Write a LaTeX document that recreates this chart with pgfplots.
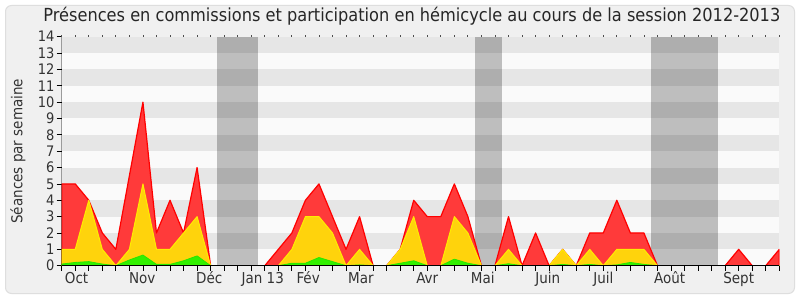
\documentclass[border=0pt]{standalone}
\usepackage{pgfplots}
\pgfplotsset{compat=1.18}
\usepackage{pgfplotstable}
\usepackage{fontspec}
\setmainfont{DejaVu Sans Condensed}
\definecolor{panelbg}{RGB}{240,240,240}
\definecolor{panelborder}{RGB}{222,222,222}
\definecolor{stripedark}{RGB}{230,230,230}
\definecolor{stripelight}{RGB}{250,250,250}
\definecolor{redfill}{RGB}{255,58,58}
\definecolor{redline}{RGB}{255,0,0}
\definecolor{yelfill}{RGB}{255,211,12}
\definecolor{yelline}{RGB}{255,236,0}
\definecolor{grnfill}{RGB}{50,240,0}
\definecolor{grnline}{RGB}{40,230,0}
\pgfplotstableread{
x red yellow green
0 5 1 0.1
1 5 1 0.2
2 4 4 0.25
3 2 1 0.1
4 1 0 0
5 5.5 1 0.35
6 10 5 0.65
7 2 1 0.08
8 4 1 0.08
9 2 2 0.3
10 6 3 0.6
11 0 0 0
12 0 0 0
13 0 0 0
14 0 0 0
15 0 0 0
16 1 0 0
17 2 1 0.15
18 4 3 0.15
19 5 3 0.5
20 3 2 0.25
21 1 0 0
22 3 1 0.05
23 0 0 0
24 0 0 0
25 1 1 0.15
26 4 3 0.3
27 3 0 0
28 3 0 0
29 5 3 0.4
30 3 2 0.15
31 0 0 0
32 0 0 0
33 3 1 0.12
34 0 0 0
35 2 0 0
36 0 0 0
37 1 1 0.08
38 0 0 0
39 2 1 0.08
40 2 0 0
41 4 1 0.05
42 2 1 0.2
43 2 1 0.08
44 0 0 0
45 0 0 0
46 0 0 0
47 0 0 0
48 0 0 0
49 0 0 0
50 1 0 0
51 0 0 0
52 0 0 0
53 1 0 0
}\sessiondata
\begin{document}
\begin{tikzpicture}[x=1pt,y=1pt]
\fill[white] (0,0) rectangle (800,300);
\draw[panelborder, fill=panelbg, rounded corners=6pt, line width=1pt] (5.5,6.5) rectangle (794.5,294.5);
\begin{axis}[
  at={(61.7pt,34.3pt)}, anchor=south west,
  scale only axis, width=717.6pt, height=229pt,
  xmin=0, xmax=53, ymin=0, ymax=14,
  /pgf/number format/assume math mode=true,
  axis line style={draw=none},
  axis background/.style={fill=stripelight},
  xtick={0,...,53}, xticklabels={},
  ytick={0,...,14},
  tick align=outside, xtick pos=bottom, ytick pos=left,
  major tick length=5pt,
  tick style={black, line width=0.8pt},
  yticklabel style={font=\fontsize{14.5}{16}\selectfont, inner sep=2pt, text=black!80},
  extra x ticks={1.1,5.95,10.9,14.85,18.2,22.1,27.0,31.1,35.9,40.0,44.9,50.0},
  extra x tick labels={Oct,Nov,Déc,Jan 13,Fév,Mar,Avr,Mai,Juin,Juil,Août,Sept},
  extra x tick style={major tick length=0pt, tick label style={font=\fontsize{15}{16}\selectfont, inner sep=0pt, text height=10.8pt, yshift=-7pt, text=black!80}},
  ylabel={Séances par semaine},
  ylabel style={font=\fontsize{15}{16}\selectfont, at={(axis description cs:-0.0609,0.5)}, anchor=center, text=black!80},
  title={Présences en commissions et participation en hémicycle au cours de la session 2012-2013},
  title style={font=\fontsize{18}{20}\selectfont, at={(axis description cs:0.488,1)}, anchor=base, yshift=9.5pt, text=black!85},
]
\fill[stripedark] (axis cs:0,1) rectangle (axis cs:53,2);
\fill[stripedark] (axis cs:0,3) rectangle (axis cs:53,4);
\fill[stripedark] (axis cs:0,5) rectangle (axis cs:53,6);
\fill[stripedark] (axis cs:0,7) rectangle (axis cs:53,8);
\fill[stripedark] (axis cs:0,9) rectangle (axis cs:53,10);
\fill[stripedark] (axis cs:0,11) rectangle (axis cs:53,12);
\fill[stripedark] (axis cs:0,13) rectangle (axis cs:53,14);
\fill[black, opacity=0.24] (axis cs:11.5,0) rectangle (axis cs:14.5,14);
\fill[black, opacity=0.24] (axis cs:30.5,0) rectangle (axis cs:32.5,14);
\fill[black, opacity=0.24] (axis cs:43.5,0) rectangle (axis cs:48.5,14);
\addplot[draw=redline, line width=1.2pt, fill=redfill, line join=round] table[x=x,y=red] {\sessiondata} \closedcycle;
\addplot[draw=yelline, line width=1pt, fill=yelfill, line join=round] table[x=x,y=yellow] {\sessiondata} \closedcycle;
\addplot[draw=grnline, line width=0.8pt, fill=grnfill, line join=round] table[x=x,y=green] {\sessiondata} \closedcycle;
\draw[black, line width=0.9pt] (axis cs:0,0) -- (axis cs:53,0);
\draw[black, line width=0.9pt] (axis cs:0,0) -- (axis cs:0,14);
\end{axis}
\begin{axis}[
  at={(61.7pt,34.3pt)}, anchor=south west,
  scale only axis, width=717.6pt, height=229pt,
  xmin=0, xmax=53, ymin=0, ymax=14,
  axis line style={draw=none},
  xtick={0,...,53}, xticklabels={}, ytick=\empty,
  tick align=outside, xtick pos=top,
  major tick length=1.3pt,
  tick style={black!70, line width=0.8pt},
]
\draw[black!18, line width=1pt] (axis cs:53,0) ++(1.5pt,0) -- ++(0,229pt);
\end{axis}
\end{tikzpicture}
\end{document}
